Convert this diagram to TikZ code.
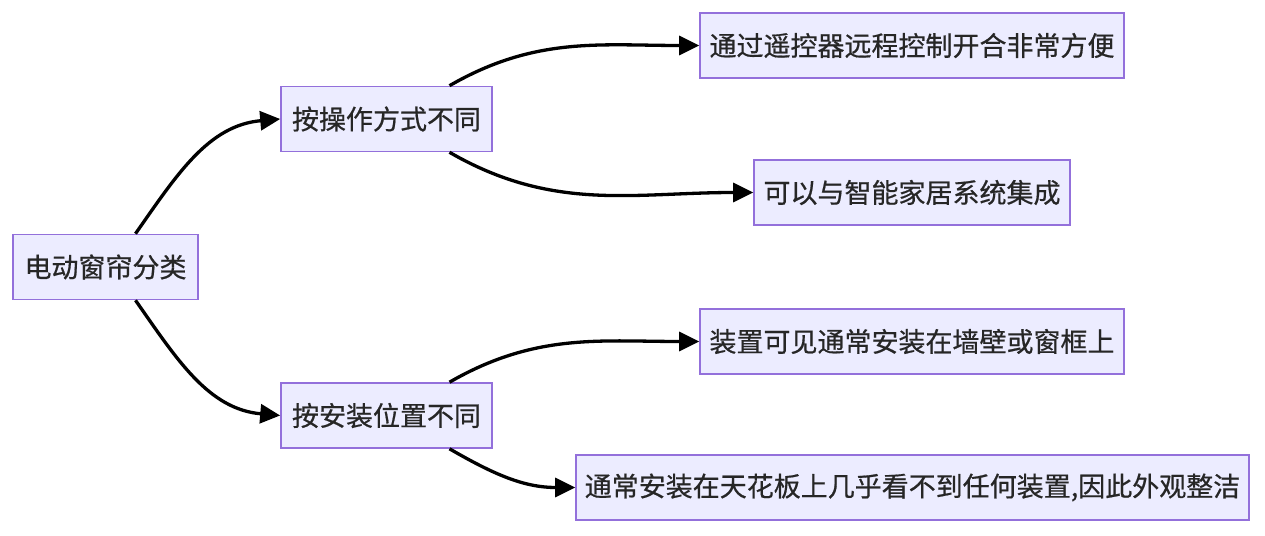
\documentclass[tikz,border=0pt]{standalone}
\usepackage{fontspec}
\newfontfamily\cjk{Noto Sans CJK SC}[FakeBold=0.6]
\usetikzlibrary{arrows.meta}
\definecolor{boxfill}{HTML}{ECECFF}
\definecolor{boxline}{HTML}{9370DB}
\tikzset{
  catbox/.style={draw=boxline, fill=boxfill, line width=1.6pt, inner sep=0pt,
    minimum height=65pt, text=black!85, font=\cjk\fontsize{27}{32}\selectfont},
  link/.style={line width=3.3pt, -{Triangle[length=20pt,width=19pt]}}
}
\begin{document}
\begin{tikzpicture}[x=1pt,y=1pt]
  \useasboundingbox (0,0) rectangle (1265,535);
  % root
  \node[catbox, minimum width=185pt] (curtain) at (105.5,268) {电动窗帘分类};
  % two ways to sort
  \node[catbox, minimum width=211pt] (byop) at (386.5,416) {按操作方式不同};
  \node[catbox, minimum width=211pt] (bypos) at (386.5,119.5) {按安装位置不同};
  % leaves
  \node[catbox, minimum width=424pt] (remote) at (912,489.5) {通过遥控器远程控制开合非常方便};
  \node[catbox, minimum width=316pt] (smart) at (912,342.5) {可以与智能家居系统集成};
  \node[catbox, minimum width=424pt] (visible) at (912,193.5) {装置可见通常安装在墙壁或窗框上};
  \node[catbox, minimum width=673pt] (hidden) at (912.5,47.5) {通常安装在天花板上几乎看不到任何装置,因此外观整洁};
  % arrows
  \draw[link] ([xshift=30pt]curtain.north) to[out=55,in=185] (byop.west);
  \draw[link] ([xshift=30pt]curtain.south) to[out=-55,in=175] (bypos.west);
  \draw[link] ([xshift=63pt]byop.north) to[out=30,in=180] (remote.west);
  \draw[link] ([xshift=63pt]byop.south) to[out=-30,in=180] (smart.west);
  \draw[link] ([xshift=63pt]bypos.north) to[out=30,in=180] (visible.west);
  \draw[link] ([xshift=63pt]bypos.south) to[out=-30,in=180] (hidden.west);
\end{tikzpicture}
\end{document}
